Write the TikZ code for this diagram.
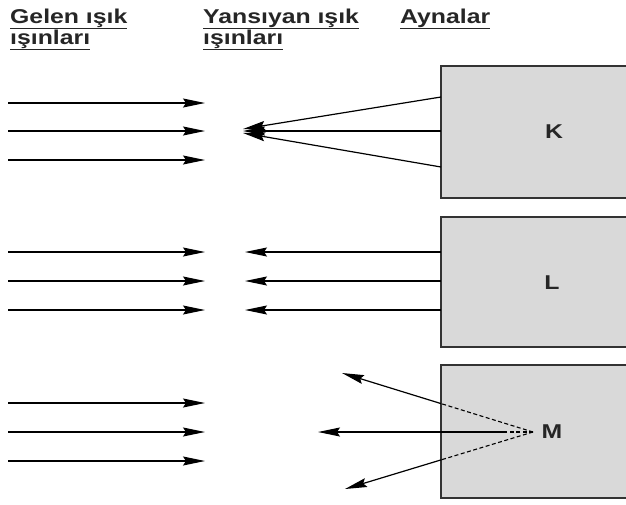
\documentclass[tikz,border=0pt]{standalone}
\usepackage{fontspec}
\setmainfont{Liberation Sans}
\usetikzlibrary{arrows.meta}
\newcommand{\wide}[1]{\scalebox{1.24}[1]{#1}}
\begin{document}
\begin{tikzpicture}[x=1pt,y=-1pt,
  mirror/.style={draw=black!80,line width=1.6pt,fill=gray!30},
  ray/.style={line width=1.2pt,-{Stealth[length=22pt,width=9pt,inset=3pt]}},
  virt/.style={line width=1.1pt,dash pattern=on 4pt off 2.5pt},
  head/.style={font=\fontsize{20}{22}\selectfont\bfseries,anchor=base west,inner sep=0pt,text=black!85},
  lbl/.style={font=\fontsize{20}{22}\selectfont\bfseries,inner sep=0pt,text=black!85}]
\useasboundingbox (0,0) rectangle (626,504);
% headings
\node[head] (h1a) at (10,23) {\wide{\underline{Gelen ışık}}};
\node[head] (h1b) at (10,44) {\wide{\underline{ışınları}}};
\node[head] (h2a) at (203,23) {\wide{\underline{Yansıyan ışık}}};
\node[head] (h2b) at (203,44) {\wide{\underline{ışınları}}};
\node[head] (h3) at (400,23) {\wide{\underline{Aynalar}}};
% mirrors
\draw[mirror] (441,66) rectangle (660,198);
\draw[mirror] (441,217) rectangle (660,347);
\draw[mirror] (441,365) rectangle (660,498);
\node[lbl] (K) at (554,132) {\wide{K}};
\node[lbl] (L) at (552,283) {\wide{L}};
\node[lbl] (M) at (552,432) {\wide{M}};
% incoming rays
\foreach \y [count=\i] in {103,131,160,252,281,310,403,432,461}{
  \coordinate (a\i) at (8,\y);
  \coordinate (b\i) at (205,\y);
  \draw[ray] (a\i) -- (b\i);
}
% K reflected
\coordinate (k1) at (441,97);
\coordinate (k2) at (441,131);
\coordinate (k3) at (441,167);
\coordinate (kt1) at (243,129);
\coordinate (kt2) at (243,131);
\coordinate (kt3) at (243,133);
\draw[ray] (k1) -- (kt1);
\draw[ray] (k2) -- (kt2);
\draw[ray] (k3) -- (kt3);
% L reflected
\foreach \y [count=\i] in {252,281,310}{
  \coordinate (l\i) at (441,\y);
  \coordinate (lt\i) at (245,\y);
  \draw[ray] (l\i) -- (lt\i);
}
% M reflected (convex mirror, virtual focus)
\coordinate (F) at (533,432);
\coordinate (mt1) at (342,373);
\coordinate (mt2) at (318,432);
\coordinate (mt3) at (345,489);
\path (F) -- (mt1) coordinate[pos=0.482] (m1);
\path (F) -- (mt3) coordinate[pos=0.487] (m3);
\coordinate (m2) at (505,432);
\draw[virt] (F) -- (m1);
\draw[virt] (F) -- (m3);
\draw[virt] (F) -- (m2);
\draw[ray] (m1) -- (mt1);
\draw[ray] (m2) -- (mt2);
\draw[ray] (m3) -- (mt3);
\end{tikzpicture}
\end{document}
